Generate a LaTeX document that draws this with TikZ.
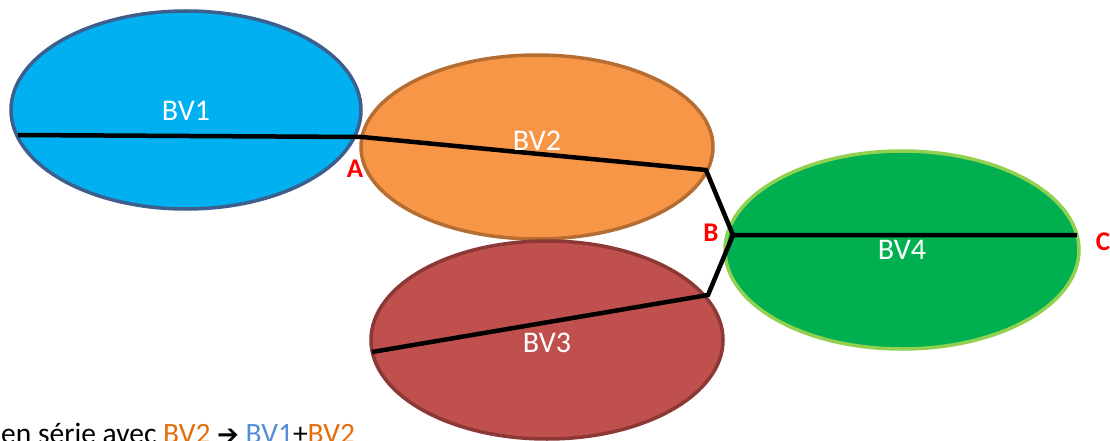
\documentclass[tikz,border=0pt]{standalone}
\usepackage{fontspec}
\setmainfont{Carlito}
\newfontfamily\symfont{DejaVu Sans}
\definecolor{bvone}{HTML}{00B0F0}
\definecolor{bvoneb}{HTML}{3D5F8E}
\definecolor{bvtwo}{HTML}{F79646}
\definecolor{bvtwob}{HTML}{B66D31}
\definecolor{bvthree}{HTML}{C0504D}
\definecolor{bvthreeb}{HTML}{8C3836}
\definecolor{bvfour}{HTML}{00B050}
\definecolor{bvfourb}{HTML}{92D050}
\definecolor{txtblue}{HTML}{558ED5}
\definecolor{txtorange}{HTML}{E46C0A}
\begin{document}
\begin{tikzpicture}[x=1pt,y=-1pt,
  basin/.style={line width=3.5pt},
  bvlabel/.style={text=white,font=\fontsize{30}{34}\selectfont},
  ptlabel/.style={text=red,font=\bfseries\fontsize{27}{30}\selectfont},
  river/.style={line width=4.5pt,black,line join=miter}]
\clip (0,0) rectangle (1110,441);
\useasboundingbox (0,0) rectangle (1110,441);
\fill[white] (0,0) rectangle (1110,441);
\draw[basin,bvoneb,fill=bvone] (186,110) ellipse [x radius=175,y radius=99];
\draw[basin,bvtwob,fill=bvtwo] (537,147) ellipse [x radius=176,y radius=92];
\draw[basin,bvthreeb,fill=bvthree] (547,340) ellipse [x radius=176,y radius=99];
\draw[basin,bvfourb,fill=bvfour] (902,250) ellipse [x radius=177,y radius=99];
\coordinate (s1) at (18,135);
\coordinate (A) at (362,137);
\coordinate (k2) at (706,170);
\coordinate (B) at (733,235);
\coordinate (k3) at (708,295);
\coordinate (s3) at (372,352);
\coordinate (C) at (1077,235);
\draw[river] (s1) -- (A) -- (k2) -- (B) -- (C);
\draw[river] (s3) -- (k3) -- (B);
\node[bvlabel] (l1) at (186,111) {BV1};
\node[bvlabel] (l2) at (537,141) {BV2};
\node[bvlabel] (l3) at (547,343) {BV3};
\node[bvlabel] (l4) at (902,250) {BV4};
\node[ptlabel] (la) at (355,169) {A};
\node[ptlabel] (lb) at (711,233) {B};
\node[ptlabel] (lc) at (1103,242) {C};
\node[anchor=base west,inner sep=0pt,font=\fontsize{29.5}{32}\selectfont] (cap) at (1,443)
  {en série avec \textcolor{txtorange}{BV2} {\symfont\bfseries\fontsize{26}{28}\selectfont ➔} \textcolor{txtblue}{BV1}+\textcolor{txtorange}{BV2}};
\end{tikzpicture}
\end{document}
